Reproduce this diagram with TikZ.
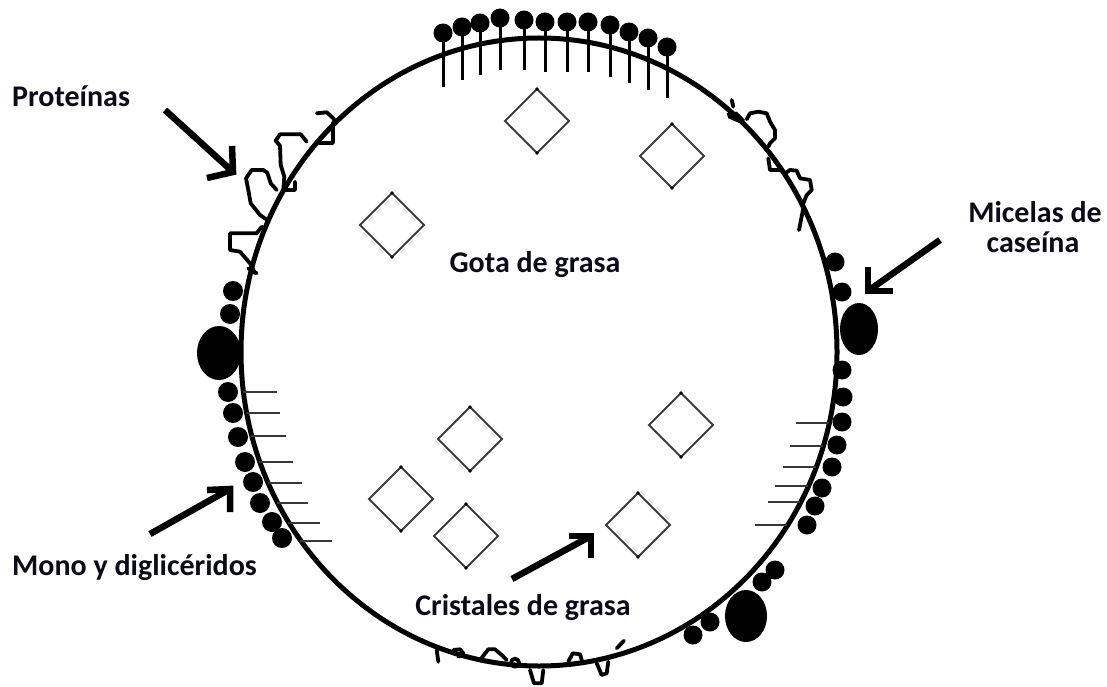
\documentclass[tikz,border=0pt]{standalone}
\usepackage{fontspec}
\setmainfont{Carlito}
\usetikzlibrary{calc}

\definecolor{labelink}{RGB}{10,10,24}
\definecolor{crystal}{RGB}{60,60,60}
\definecolor{tail}{RGB}{55,55,55}

\tikzset{
  membrane/.style={line width=5pt, draw=black},
  protein/.style={line width=3.8pt, line join=round, line cap=round, draw=black},
  micelle/.style={fill=black},
  tailstick/.style={line width=2.4pt, draw=tail},
  headstick/.style={line width=3pt, draw=black},
  crystalbox/.style={line width=1.8pt, draw=crystal, line join=miter},
  pointer/.style={line width=6.5pt, draw=black, line join=miter, line cap=butt},
  tag/.style={font=\fontsize{30}{30}\selectfont\bfseries, text=labelink, inner sep=0pt, align=center},
}

\begin{document}
\begin{tikzpicture}[x=1pt,y=-1pt]
\useasboundingbox (0,0) rectangle (1107,687);
\fill[white] (0,0) rectangle (1107,687);

% fat droplet membrane
\draw[membrane] (539,352) ellipse[x radius=298pt, y radius=314pt];

% fat crystals
\foreach \cx/\cy in {537/121, 672/156, 392/225, 470/439, 401/499, 466/536, 638/525, 681/425} {
  \draw[crystalbox] ({\cx},{\cy-32}) -- ({\cx+32},{\cy}) -- ({\cx},{\cy+32}) -- ({\cx-32},{\cy}) -- cycle;
  \fill[black] ({\cx},{\cy-32}) circle[radius=1.8pt];
  \fill[black] ({\cx},{\cy+32}) circle[radius=1.8pt];
}

% polar heads and tails on top
\foreach \hx/\hy/\ty in {443/33/87, 462/27/80, 480/23/75, 500/18/70, 524/20/70, 545/22/72,
                         567/22/72, 588/22/72, 610/25/77, 629/32/83, 648/38/90, 667/47/98} {
  \draw[headstick] (\hx,\hy) -- (\hx,\ty);
  \fill[black] (\hx,\hy) circle[radius=9.5pt];
}

% mono- and diglyceride tails, left side
\foreach \sy/\sa/\sb in {392/243/277, 413/246/280, 436/251/286, 462/259/293,
                         483/268/302, 503/277/308, 523/288/320, 541/300/332} {
  \draw[tailstick] (\sa,\sy) -- (\sb,\sy);
}
% mono- and diglyceride tails, right side
\foreach \sy/\sa/\sb in {423/796/829, 446/790/823, 467/783/816, 486/775/808,
                         502/768/800, 525/755/787} {
  \draw[tailstick] (\sa,\sy) -- (\sb,\sy);
}

% casein micelles, left side
\foreach \mx/\my in {233/291, 230/314, 228/392, 233/413, 238/437, 245/462,
                     253/482, 260/503, 272/522, 282/538} {
  \fill[micelle] (\mx,\my) circle[radius=10pt];
}
\fill[micelle] (219,353) ellipse[x radius=22pt, y radius=27pt];

% casein micelles, right side
\foreach \mx/\my in {835/262, 842/292, 842/370, 843/397, 842/422, 837/445,
                     832/467, 822/488, 815/506, 807/525} {
  \fill[micelle] (\mx,\my) circle[radius=9.5pt];
}
\fill[micelle] (859,329) ellipse[x radius=19pt, y radius=26pt];

% casein micelles, lower right
\foreach \mx/\my in {775/570, 762/582, 710/622, 693/635} {
  \fill[micelle] (\mx,\my) circle[radius=9.5pt];
}
\fill[micelle] (746,616) ellipse[x radius=21pt, y radius=26pt];

% adsorbed proteins, upper left
\draw[protein] (316.7,113.3) -- (326.7,112.3) -- (333.3,118.3) -- (335,121.7);
\draw[protein] (333,123) -- (333,143) -- (318,143);
\draw[protein] (306.7,141.7) -- (300.7,134.3) -- (280,134.3) -- (275.7,140.7) -- (280,145.7)
  -- (280.7,165) -- (284.3,176.7) -- (283.3,190) -- (295,190) -- (295,181.7);
\draw[protein] (276.7,190) -- (270.7,183.3) -- (267.3,172.7) -- (263.3,170) -- (251.7,170)
  -- (246,178.3) -- (248.3,190) -- (250.7,203.3) -- (260,215) -- (267.3,220);
\draw[protein] (261.7,226.7) -- (256.7,233.3) -- (230,233.3) -- (230,250) -- (240,251.7)
  -- (250,263.3) -- (255,273.3);
\draw[protein] (248.3,268.3) -- (256.7,273.3);

% adsorbed proteins, upper right
\draw[protein] (731.7,100) -- (733.3,106.7);
\fill[black] (726.7,113.3) -- (736.7,111.7) -- (745,120) -- (740,123.3) -- (728.3,118.3) -- cycle;
\draw[protein] (746.7,119.3) -- (750,113.3) -- (758.3,111.7) -- (766.7,113.3) -- (770,121.7)
  -- (775,130) -- (775,138.3) -- (770,143.3) -- (768.3,146.7);
\draw[protein] (768.3,158.3) -- (770,170) -- (780,170);
\draw[protein] (785,173.3) -- (790,170) -- (796.7,170.7) -- (800,178.3) -- (810,180)
  -- (811.7,190) -- (806.7,195) -- (803.3,203.3);
\draw[protein] (803.3,208.3) -- (799,230);

% adsorbed proteins, bottom
\draw[protein] (436.7,650) -- (438.3,661.7);
\draw[protein] (453.3,650) -- (460,649.3) -- (463.3,653.3) -- (458.3,656.7);
\draw[protein] (480,660) -- (488.3,649.3) -- (495,649.3) -- (501.7,655) -- (506.7,660);
\draw[protein] (515,662.7) circle[radius=4pt];
\draw[protein] (530,670) -- (534,683.3) -- (541.7,683.3) -- (543.3,670);
\draw[protein] (568.3,661.7) -- (572.7,653.3) -- (580,654.3) -- (582.7,663.3);
\draw[protein] (596.7,663.3) -- (601.7,675) -- (606.7,673.3) -- (608.3,661.7);
\draw[protein] (616.7,648.3) -- (624,640.7);

% labels
\node[tag, anchor=base west] (proteinas) at (12,107) {Proteínas};
\node[tag, anchor=base] (micelas) at (1035,222) {Micelas de};
\node[tag, anchor=base] (caseina) at (1033,252) {caseína};
\node[tag, anchor=base] (gota) at (535,272) {Gota de grasa};
\node[tag, anchor=base west] (mono) at (12,575) {Mono y diglicéridos};
\node[tag, anchor=base] (cristales) at (523,615) {Cristales de grasa};

% pointer arrows
\coordinate (pS) at (165,110);  \coordinate (pT) at (233,172);
\coordinate (pA) at (232,146);  \coordinate (pB) at (207,178);
\coordinate (mS) at (940,240);  \coordinate (mT) at (868,291);
\coordinate (mA) at (868,267);  \coordinate (mB) at (893,291);
\coordinate (dS) at (150,534);  \coordinate (dT) at (230,489);
\coordinate (dA) at (207,490);  \coordinate (dB) at (230,512);
\coordinate (cS) at (512,579);  \coordinate (cT) at (591,536);
\coordinate (cA) at (569,536);  \coordinate (cB) at (591,558);
\foreach \p in {p,m,d,c} {
  \draw[pointer] (\p S) -- (\p T);
  \draw[pointer] (\p A) -- (\p T) -- (\p B);
}
\end{tikzpicture}
\end{document}
